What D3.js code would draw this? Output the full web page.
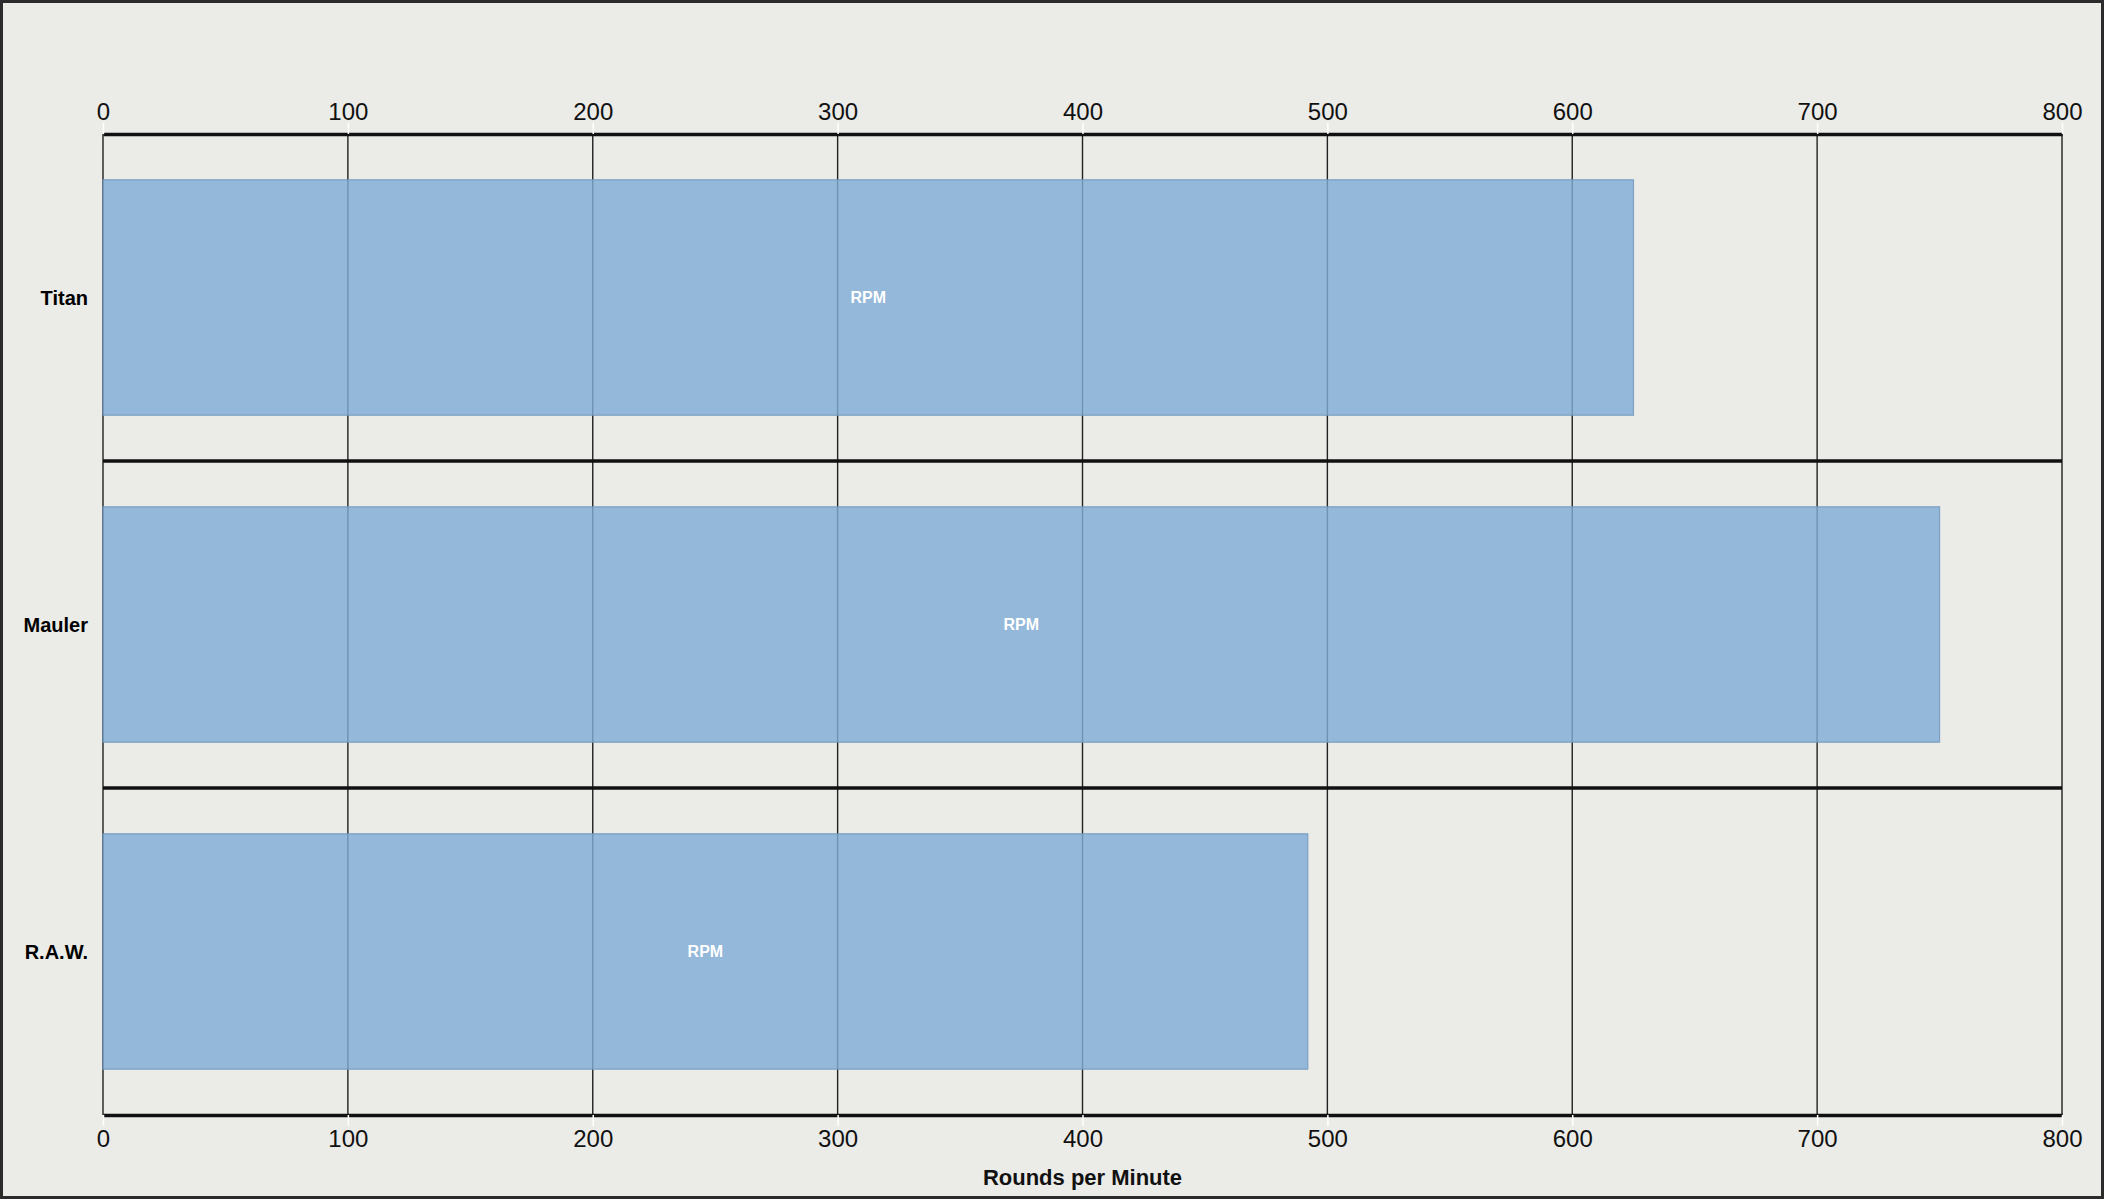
<html>
    <head>
        <title>rpm</title>
        <style>
            body { margin: 0; background: #ebebe7; }
            svg { display: block; }
            text { font-family: "Liberation Sans", Arial, sans-serif; }
        </style>
    </head>
    <body>
    </body>
    <script src='https://d3js.org/d3.v7.min.js'></script>
    <script>
        // data
        var categories = ['Titan', 'Mauler', 'R.A.W.']
        var rpm = [625, 750, 492]
        var barLabel = 'RPM'
        var xTicks = [0, 100, 200, 300, 400, 500, 600, 700, 800]
        var xTitle = 'Rounds per Minute'

        var width = 2104
        var height = 1199
        var padding = {left: 103, right: 42, top: 134, bottom: 84}
        var innerW = width - padding.left - padding.right
        var innerH = height - padding.top - padding.bottom

        var svg = d3.select('body')
            .append('svg')
            .attr('width', width)
            .attr('height', height)

        // background + frame
        svg.append('rect')
            .attr('x', 1.5).attr('y', 1.5)
            .attr('width', width - 3).attr('height', height - 3)
            .attr('fill', '#ebebe7')
            .attr('stroke', '#2b2b2b')
            .attr('stroke-width', 3)

        var g = svg.append('g')
            .attr('transform', 'translate(' + padding.left + ',' + padding.top + ')')

        //x轴的比例尺
        var xScale = d3.scaleLinear()
            .domain([0, 800])
            .range([0, innerW])

        //y轴的比例尺 (one band per category, bars inset inside it)
        var yScale = d3.scaleBand()
            .domain(categories)
            .range([0, innerH])
            .padding(0)
        var inset = 0.14

        // vertical grid lines
        g.selectAll('.grid')
            .data(xTicks)
            .enter()
            .append('line')
            .attr('class', 'grid')
            .attr('x1', function(d){ return xScale(d) })
            .attr('x2', function(d){ return xScale(d) })
            .attr('y1', 0)
            .attr('y2', innerH)
            .attr('stroke', '#222')
            .attr('stroke-width', 1.4)

        // bars
        g.selectAll('.bar')
            .data(rpm)
            .enter()
            .append('rect')
            .attr('class', 'bar')
            .attr('x', xScale(0))
            .attr('y', function(d, i){ return yScale(categories[i]) + yScale.bandwidth() * inset })
            .attr('width', function(d){ return xScale(d) - xScale(0) })
            .attr('height', yScale.bandwidth() * (1 - 2 * inset))
            .attr('fill', 'rgb(128,173,213)')
            .attr('fill-opacity', 0.81)
            .attr('stroke', 'rgb(110,150,190)')
            .attr('stroke-opacity', 0.8)
            .attr('stroke-width', 1.2)

        // labels inside bars
        g.selectAll('.barlabel')
            .data(rpm)
            .enter()
            .append('text')
            .attr('class', 'barlabel')
            .attr('x', function(d){ return xScale(d / 2) })
            .attr('y', function(d, i){ return yScale(categories[i]) + yScale.bandwidth() / 2 })
            .attr('dy', '0.35em')
            .attr('text-anchor', 'middle')
            .attr('fill', '#fff')
            .attr('font-size', 16)
            .attr('font-weight', 'bold')
            .text(barLabel)

        // separators between categories
        g.selectAll('.sep')
            .data(categories.slice(1))
            .enter()
            .append('line')
            .attr('class', 'sep')
            .attr('x1', 0)
            .attr('x2', innerW)
            .attr('y1', function(d){ return yScale(d) })
            .attr('y2', function(d){ return yScale(d) })
            .attr('stroke', '#111')
            .attr('stroke-width', 3.5)

        // category labels
        g.selectAll('.cat')
            .data(categories)
            .enter()
            .append('text')
            .attr('class', 'cat')
            .attr('x', -15)
            .attr('y', function(d){ return yScale(d) + yScale.bandwidth() / 2 })
            .attr('dy', '0.35em')
            .attr('text-anchor', 'end')
            .attr('font-size', 20)
            .attr('font-weight', 'bold')
            .attr('fill', '#000')
            .text(function(d){ return d })

        // axes top and bottom
        var topAxis = g.append('g')
            .call(d3.axisTop(xScale).tickValues(xTicks).tickSize(11).tickSizeOuter(0).tickPadding(3))
        var bottomAxis = g.append('g')
            .attr('transform', 'translate(0,' + innerH + ')')
            .call(d3.axisBottom(xScale).tickValues(xTicks).tickSize(11).tickSizeOuter(0).tickPadding(4))

        ;[topAxis, bottomAxis].forEach(function(a){
            a.select('.domain').attr('stroke', '#111').attr('stroke-width', 3.5)
            a.selectAll('.tick line').attr('stroke', '#fff').attr('stroke-width', 1.5)
            a.selectAll('.tick text')
                .attr('font-size', 24)
                .attr('fill', '#111')
                .style('font-family', '"Liberation Sans", Arial, sans-serif')
        })

        // axis title
        g.append('text')
            .attr('x', xScale(400))
            .attr('y', innerH + 70)
            .attr('text-anchor', 'middle')
            .attr('font-size', 22)
            .attr('font-weight', 'bold')
            .attr('fill', '#111')
            .text(xTitle)
    </script>
</html>
